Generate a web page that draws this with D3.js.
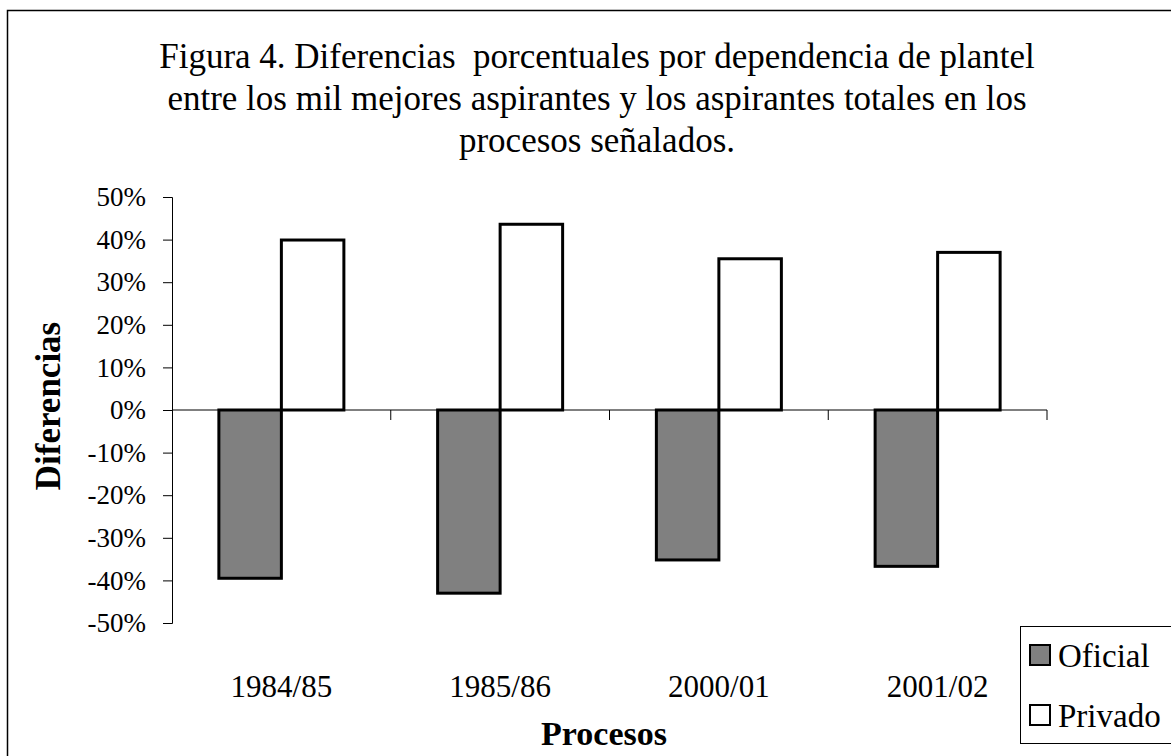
<!DOCTYPE html>
<html>
<head>
<meta charset="utf-8">
<script src="https://cdn.jsdelivr.net/npm/d3@7"></script>
<style>
  body { margin: 0; background: #fff; }
  svg { display: block; font-family: "Liberation Serif", "Times New Roman", serif; }
  text { white-space: pre; }
</style>
</head>
<body>
<div id="chart"></div>
<script>
// data
const procesos = ["1984/85", "1985/86", "2000/01", "2001/02"];
const series = ["Oficial", "Privado"];
const oficial = [-0.395, -0.43, -0.352, -0.367];
const privado = [0.399, 0.436, 0.355, 0.37];
const yTicks = [-0.5, -0.4, -0.3, -0.2, -0.1, 0, 0.1, 0.2, 0.3, 0.4, 0.5];
const titleLines = [
  "Figura 4. Diferencias  porcentuales por dependencia de plantel",
  "entre los mil mejores aspirantes y los aspirantes totales en los",
  "procesos señalados."
];
const colors = { Oficial: "#808080", Privado: "#ffffff" };

const width = 1171;
const height = 756;
const margin = { top: 197, bottom: 133, left: 172, right: 124 };

const svg = d3.select("#chart")
  .append("svg")
  .attr("width", width)
  .attr("height", height);

// outer frame
svg.append("rect")
  .attr("x", 7.5).attr("y", 10.5)
  .attr("width", 1300).attr("height", 900)
  .attr("fill", "none")
  .attr("stroke", "#000")
  .attr("stroke-width", 1.5);

// title
svg.append("g")
  .selectAll("text")
  .data(titleLines)
  .join("text")
  .attr("x", 597)
  .attr("y", (d, i) => 68 + i * 42)
  .attr("text-anchor", "middle")
  .attr("font-size", "35px")
  .text(d => d);

const x = d3.scaleBand()
  .domain(procesos)
  .range([margin.left, width - margin.right]);

const x1 = d3.scaleBand()
  .domain(series)
  .range([0, x.bandwidth()])
  .paddingOuter(0.75);

const y = d3.scaleLinear()
  .domain([-0.5, 0.5])
  .range([height - margin.bottom, margin.top]);

const rows = procesos.map((p, i) => ({ proceso: p, Oficial: oficial[i], Privado: privado[i] }));

// bars
svg.append("g")
  .selectAll("g")
  .data(rows)
  .join("g")
  .attr("transform", d => `translate(${x(d.proceso)},0)`)
  .selectAll("rect")
  .data(d => series.map(s => ({ key: s, value: d[s] })))
  .join("rect")
  .attr("x", d => x1(d.key))
  .attr("y", d => y(Math.max(0, d.value)))
  .attr("width", x1.bandwidth())
  .attr("height", d => Math.abs(y(d.value) - y(0)))
  .attr("fill", d => colors[d.key])
  .attr("stroke", "#000")
  .attr("stroke-width", 3);

// y axis (plain hyphen for negatives, like the original)
const pct = d => Math.round(d * 100) + "%";
const yAxis = svg.append("g")
  .attr("transform", `translate(${margin.left},0)`)
  .call(d3.axisLeft(y).tickValues(yTicks).tickFormat(pct).tickSize(9).tickPadding(17));
yAxis.selectAll("text").attr("font-size", "27px").attr("font-family", "Liberation Serif").attr("fill", "#000");
yAxis.selectAll("line, path").attr("stroke", "#000");

// x axis at zero, ticks down at category boundaries
const xAxis = svg.append("g")
  .attr("transform", `translate(0,${y(0)})`);
xAxis.append("line")
  .attr("x1", margin.left).attr("x2", width - margin.right)
  .attr("stroke", "#000");
xAxis.selectAll(".tk")
  .data(procesos)
  .join("line")
  .attr("class", "tk")
  .attr("x1", d => x(d) + x.bandwidth())
  .attr("x2", d => x(d) + x.bandwidth())
  .attr("y1", 0).attr("y2", 10)
  .attr("stroke", "#000");

// category labels at bottom
svg.append("g")
  .selectAll("text")
  .data(procesos)
  .join("text")
  .attr("x", d => x(d) + x.bandwidth() / 2)
  .attr("y", 697)
  .attr("text-anchor", "middle")
  .attr("font-size", "31px")
  .text(d => d);

// axis titles
svg.append("text")
  .attr("x", 604).attr("y", 745)
  .attr("text-anchor", "middle")
  .attr("font-size", "34px")
  .attr("font-weight", "bold")
  .text("Procesos");

svg.append("text")
  .attr("transform", `translate(60,406) rotate(-90)`)
  .attr("text-anchor", "middle")
  .attr("font-size", "35px")
  .attr("font-weight", "bold")
  .text("Diferencias");

// legend
const legend = svg.append("g").attr("transform", "translate(1020,626)");
legend.append("rect")
  .attr("x", 0.5).attr("y", 0.5)
  .attr("width", 170).attr("height", 117)
  .attr("fill", "#fff")
  .attr("stroke", "#000");
const item = legend.selectAll(".item")
  .data(series)
  .join("g")
  .attr("class", "item")
  .attr("transform", (d, i) => `translate(0,${29 + i * 60})`);
item.append("rect")
  .attr("x", 10).attr("y", -10)
  .attr("width", 20).attr("height", 20)
  .attr("fill", d => colors[d])
  .attr("stroke", "#000")
  .attr("stroke-width", 2);
item.append("text")
  .attr("x", 38).attr("y", 12)
  .attr("font-size", "33px")
  .text(d => d);
</script>
</body>
</html>
